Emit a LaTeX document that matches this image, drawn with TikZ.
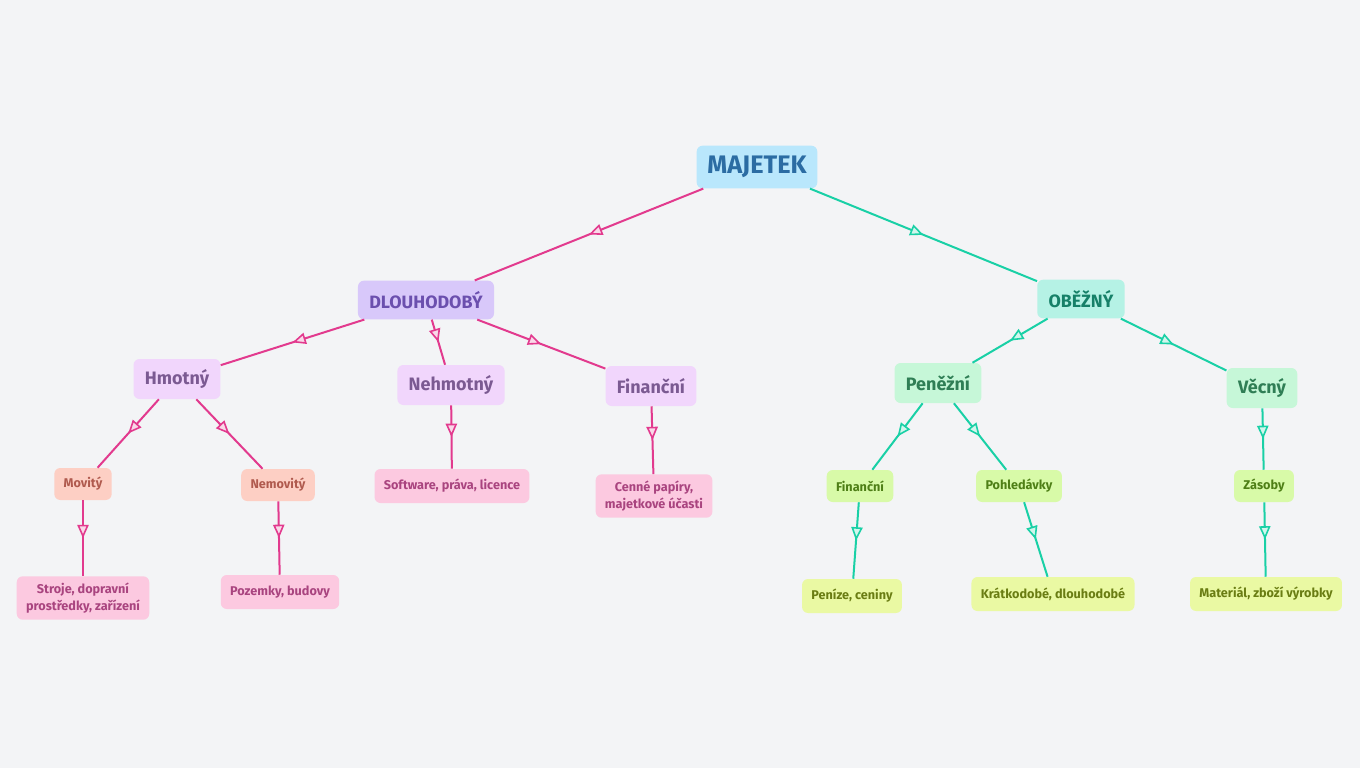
\documentclass[tikz,border=0pt]{standalone}
\usepackage{fontspec}
\setmainfont{Fira Sans}
\usetikzlibrary{arrows.meta,decorations.markings}

\definecolor{bgC}{HTML}{F3F4F6}
\definecolor{rootfillC}{HTML}{B9E7FC}
\definecolor{roottextC}{HTML}{2B6CA3}
\definecolor{longLfillC}{HTML}{D8C8FA}
\definecolor{longLtextC}{HTML}{6B4FAE}
\definecolor{longRfillC}{HTML}{B5F2E5}
\definecolor{longRtextC}{HTML}{168068}
\definecolor{subLfillC}{HTML}{F1D6FC}
\definecolor{subLtextC}{HTML}{7B5A92}
\definecolor{subRfillC}{HTML}{C6F7D8}
\definecolor{subRtextC}{HTML}{2F7E55}
\definecolor{kindLfillC}{HTML}{FDCFC4}
\definecolor{kindLtextC}{HTML}{B05A4E}
\definecolor{itemLfillC}{HTML}{FCC9E0}
\definecolor{itemLtextC}{HTML}{A9447F}
\definecolor{kindRfillC}{HTML}{D8FAA8}
\definecolor{kindRtextC}{HTML}{4E7F16}
\definecolor{itemRfillC}{HTML}{EAF9A3}
\definecolor{itemRtextC}{HTML}{6A7D13}
\definecolor{pinkC}{HTML}{E23A8E}
\definecolor{tealC}{HTML}{19D0A6}

\begin{document}
\begin{tikzpicture}[x=0.75pt,y=-0.75pt]
   \tikzstyle{every node}=[rounded corners=4.5pt, align=center]
   \tikzstyle{root}=[fill=rootfillC, text=roottextC, font=\fontsize{19}{22}\bfseries\selectfont, minimum height=32pt, inner xsep=8pt]
   \tikzstyle{longL}=[fill=longLfillC, text=longLtextC, font=\fontsize{13.4}{16}\bfseries\selectfont, minimum height=29pt, inner xsep=8.5pt]
   \tikzstyle{longR}=[longL, fill=longRfillC, text=longRtextC]
   \tikzstyle{subL}=[fill=subLfillC, text=subLtextC, font=\fontsize{13.5}{16}\bfseries\selectfont, minimum height=30pt, inner xsep=8.5pt]
   \tikzstyle{subR}=[subL, fill=subRfillC, text=subRtextC]
   \tikzstyle{kindL}=[fill=kindLfillC, text=kindLtextC, font=\fontsize{9.5}{12.5}\bfseries\selectfont, minimum height=24pt, inner xsep=7pt]
   \tikzstyle{kindR}=[kindL, fill=kindRfillC, text=kindRtextC]
   \tikzstyle{itemL}=[kindL, fill=itemLfillC, text=itemLtextC, minimum height=25.5pt, inner ysep=5pt]
   \tikzstyle{itemR}=[itemL, fill=itemRfillC, text=itemRtextC]
   \tikzstyle{pinkedge}=[draw=pinkC, line width=1.5pt, postaction={decorate},
      decoration={markings, mark=at position 0.5 with {\arrow{Triangle[length=10pt, width=8.5pt, line width=1.2pt, fill=pinkC!20]}}}]
   \tikzstyle{tealedge}=[draw=tealC, line width=1.5pt, postaction={decorate},
      decoration={markings, mark=at position 0.5 with {\arrow{Triangle[length=10pt, width=8.5pt, line width=1.2pt, fill=tealC!20]}}}]

\fill[bgC] (0,0) rectangle (1360,768);

% top
\node[root] (majetek) at (757,167) {MAJETEK};
\node[longL] (dlouho) at (426,300) {DLOUHODOBÝ};
\node[longR] (obezny) at (1081,299) {OBĚŽNÝ};

% dlouhodoby
\node[subL] (hmotny) at (177,379) {Hmotný};
\node[subL] (nehmotny) at (451,385) {Nehmotný};
\node[subL] (financniL) at (651,386) {Finanční};
\node[kindL] (movity) at (83,484) {Movitý};
\node[kindL] (nemovity) at (278,485) {Nemovitý};
\node[itemL] (software) at (452,486) {Software, práva, licence};
\node[itemL] (cenne) at (654,496) {Cenné papíry,\\majetkové účasti};
\node[itemL] (stroje) at (83,598) {Stroje, dopravní\\prostředky, zařízení};
\node[itemL] (pozemky) at (280,592) {Pozemky, budovy};

% obezny
\node[subR] (penezni) at (938,383) {Peněžní};
\node[subR] (vecny) at (1262,388) {Věcný};
\node[kindR] (financniR) at (860,486) {Finanční};
\node[kindR] (pohledavky) at (1019,486) {Pohledávky};
\node[kindR] (zasoby) at (1264,486) {Zásoby};
\node[itemR] (penize) at (852,596) {Peníze, ceniny};
\node[itemR] (kratko) at (1053,594) {Krátkodobé, dlouhodobé};
\node[itemR] (material) at (1266,594) {Materiál, zboží výrobky};

\draw[pinkedge] (majetek) -- (dlouho);
\draw[pinkedge] (dlouho) -- (hmotny);
\draw[pinkedge] (dlouho) -- (nehmotny);
\draw[pinkedge] (dlouho) -- (financniL);
\draw[pinkedge] (hmotny) -- (movity);
\draw[pinkedge] (hmotny) -- (nemovity);
\draw[pinkedge] (movity) -- (stroje);
\draw[pinkedge] (nemovity) -- (pozemky);
\draw[pinkedge] (nehmotny) -- (software);
\draw[pinkedge] (financniL) -- (cenne);

\draw[tealedge] (majetek) -- (obezny);
\draw[tealedge] (obezny) -- (penezni);
\draw[tealedge] (obezny) -- (vecny);
\draw[tealedge] (penezni) -- (financniR);
\draw[tealedge] (penezni) -- (pohledavky);
\draw[tealedge] (vecny) -- (zasoby);
\draw[tealedge] (financniR) -- (penize);
\draw[tealedge] (pohledavky) -- (kratko);
\draw[tealedge] (zasoby) -- (material);

\end{tikzpicture}
\end{document}
